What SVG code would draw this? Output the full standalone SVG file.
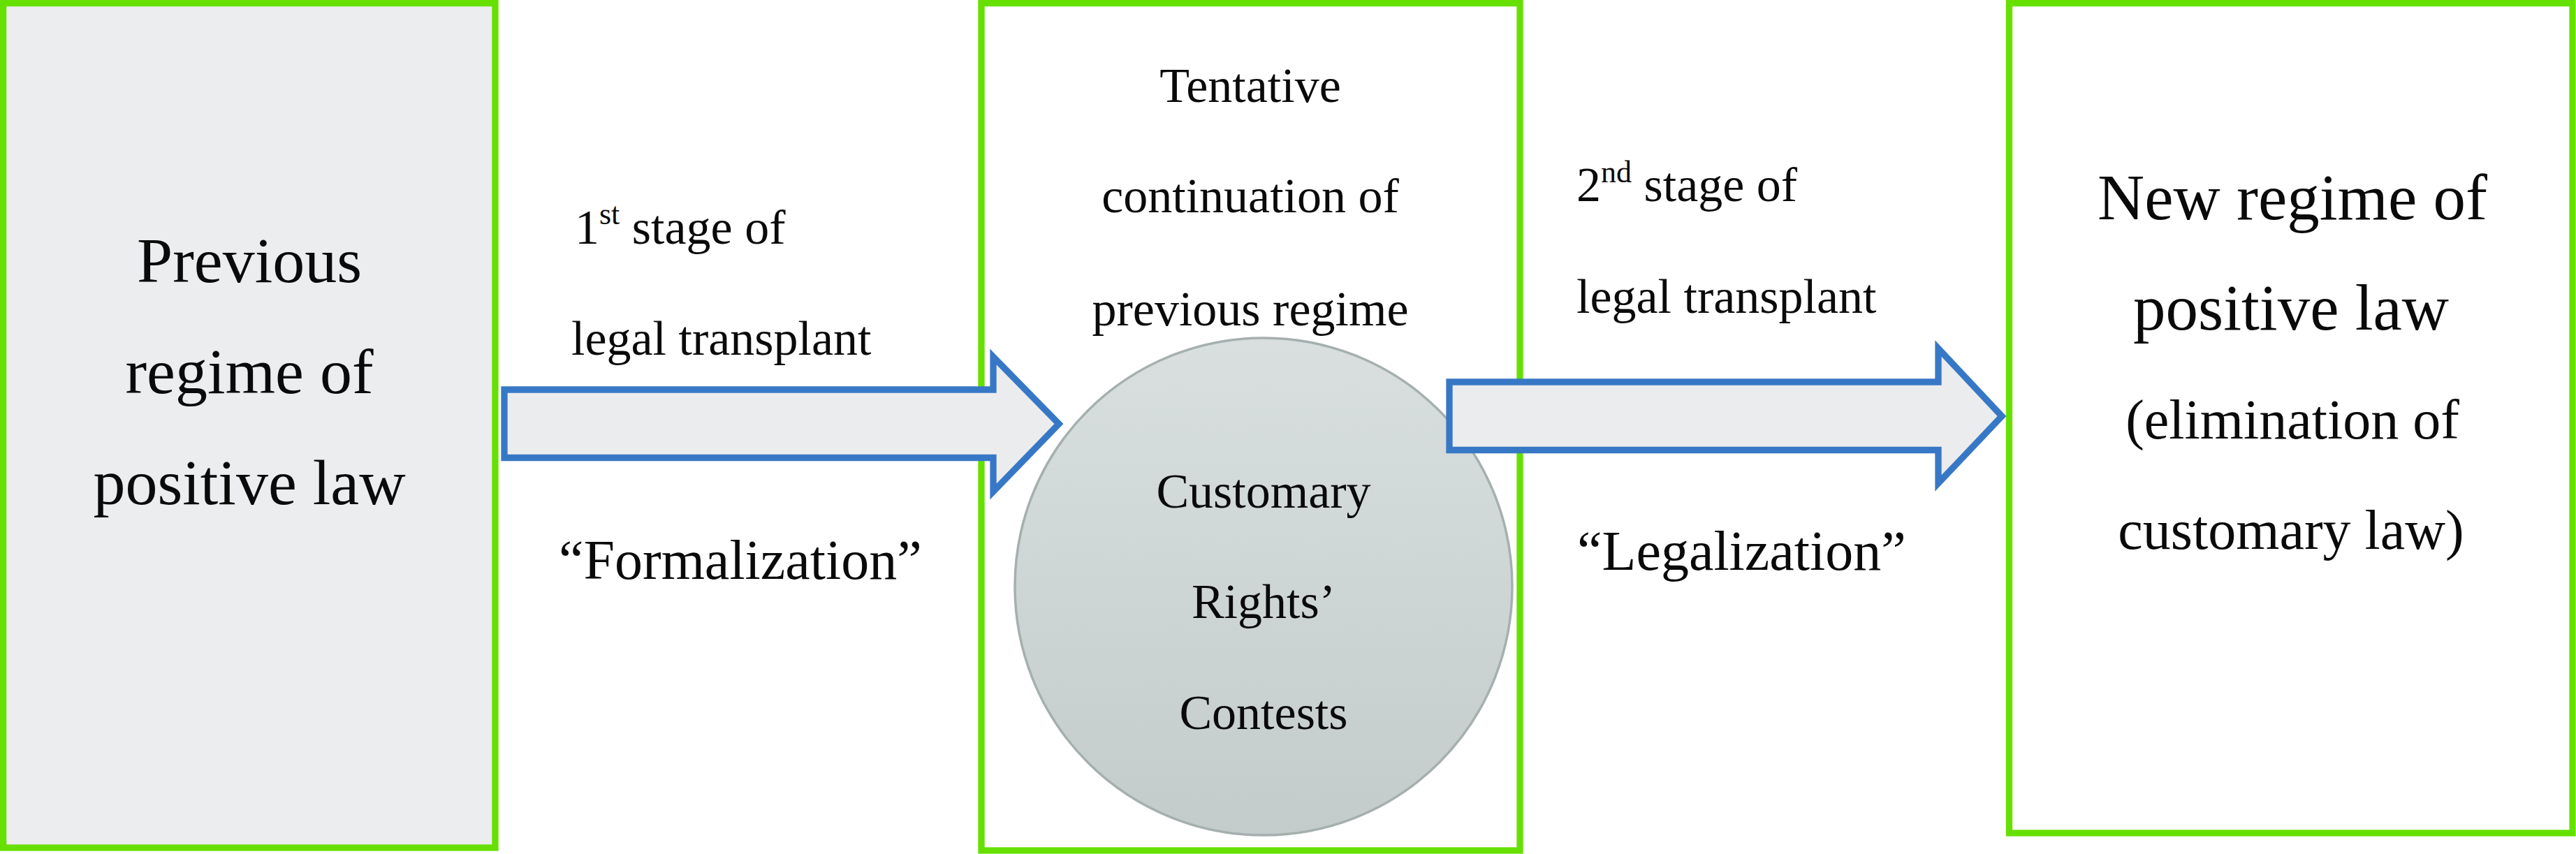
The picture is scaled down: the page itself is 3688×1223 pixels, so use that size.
<svg xmlns="http://www.w3.org/2000/svg" width="3688" height="1223" viewBox="0 0 3688 1223">
  <style>
    .box { stroke: #66E000; stroke-width: 9.3; }
    .t { font-family: "Liberation Serif", "Times New Roman", serif; fill: #0a0a0a; }
    .big { font-size: 92px; text-anchor: middle; }
    .mid { font-size: 70px; text-anchor: middle; }
    .lbl { font-size: 70px; }
    .quote { font-size: 80px; }
    .arrow { fill: #EBECEE; stroke: #3778C6; stroke-width: 9.3; stroke-linejoin: miter; stroke-miterlimit: 10; }
  </style>
  <defs>
    <linearGradient id="circFill" x1="0" y1="0" x2="0" y2="1">
      <stop offset="0" stop-color="#D9DFDF"/>
      <stop offset="1" stop-color="#C3CCCB"/>
    </linearGradient>
  </defs>
  <rect x="0" y="0" width="3688" height="1223" fill="#FFFFFF"/>

  <g id="node-previous-regime">
    <rect class="box" x="4.6" y="4.6" width="704.4" height="1209.4" fill="#ECEDEF"/>
    <text class="t big" x="357" y="404">Previous</text>
    <text class="t big" x="357" y="563">regime of</text>
    <text class="t big" x="357" y="722">positive law</text>
  </g>

  <g id="node-tentative-continuation">
    <rect class="box" x="1405" y="4.6" width="771" height="1213.4" fill="#FFFFFF"/>
    <text class="t mid" x="1790" y="146">Tentative</text>
    <text class="t mid" x="1790" y="304">continuation of</text>
    <text class="t mid" x="1790" y="466">previous regime</text>
  </g>

  <g id="node-customary-rights">
    <circle cx="1809" cy="840" r="356" fill="url(#circFill)" stroke="#A5B0AE" stroke-width="3.5"/>
    <text class="t mid" x="1809" y="727">Customary</text>
    <text class="t mid" x="1809" y="885">Rights’</text>
    <text class="t mid" x="1809" y="1044">Contests</text>
  </g>

  <g id="node-new-regime">
    <rect class="box" x="2876.5" y="4.6" width="806.5" height="1188.4" fill="#FFFFFF"/>
    <text class="t" style="font-size:93px" text-anchor="middle" x="3282" y="314">New regime of</text>
    <text class="t" style="font-size:93px" text-anchor="middle" x="3280" y="472">positive law</text>
    <text class="t" style="font-size:80px" text-anchor="middle" x="3282" y="628">(elimination of</text>
    <text class="t" style="font-size:80px" text-anchor="middle" x="3280" y="786">customary law)</text>
  </g>

  <g id="connectors">
    <g id="edge-formalization">
      <polygon class="arrow" points="722,558 1422,558 1422,511 1516,607 1422,704 1422,655.5 722,655.5"/>
      <text class="t lbl" x="823" y="349">1<tspan font-size="44" dy="-28">st</tspan><tspan dy="28"> stage of</tspan></text>
      <text class="t lbl" x="818" y="508">legal transplant</text>
      <text class="t quote" x="800" y="829">“Formalization”</text>
    </g>
    <g id="edge-legalization">
      <polygon class="arrow" points="2075,547 2775,547 2775,499 2866,596 2775,692 2775,644.5 2075,644.5"/>
      <text class="t lbl" x="2257" y="288">2<tspan font-size="44" dy="-27">nd</tspan><tspan dy="27"> stage of</tspan></text>
      <text class="t lbl" x="2257" y="448">legal transplant</text>
      <text class="t quote" x="2258" y="816">“Legalization”</text>
    </g>
  </g>
</svg>
